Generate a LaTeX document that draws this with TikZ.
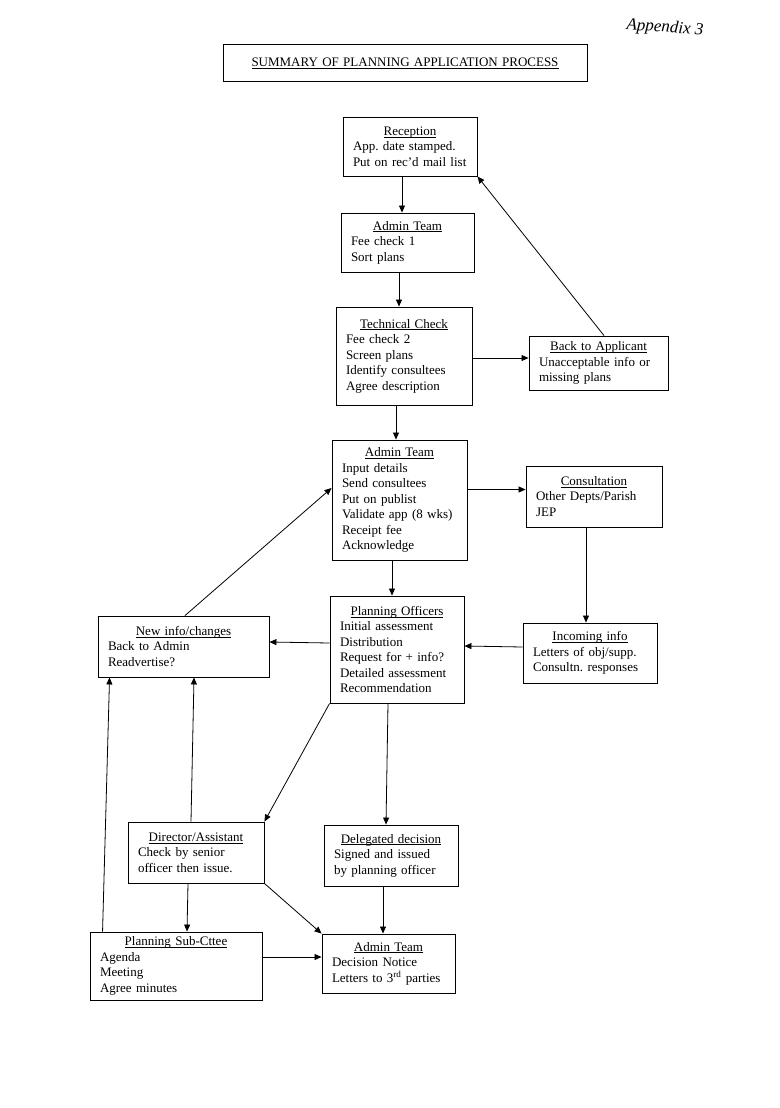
\documentclass[tikz,border=0pt]{standalone}
\usepackage{fontspec}
\setmainfont{Liberation Serif}
\usetikzlibrary{arrows.meta}
\newcommand{\hd}[1]{\makebox[\hsize]{\setbox0\hbox{#1}\rlap{\rule[-1.8pt]{\wd0}{0.5pt}}\box0}}
\tikzset{
    box/.style={draw, line width=0.9pt, inner xsep=10pt, inner ysep=3pt, align=left, font=\fontsize{13}{15.5}\selectfont\frenchspacing},
    arr/.style={-{Triangle[length=7pt,width=6pt]}, line width=0.8pt}
}
\begin{document}
\begin{tikzpicture}[x=1pt, y=-1pt]
                    \useasboundingbox (0,0) rectangle (779,1108);
                    \node[font=\fontsize{17}{17}\selectfont\itshape, rotate=-4] (appx) at (665,28) {Appendix 3};
                    \node[box, text width=344pt, minimum height=37pt, align=center] (title) at (405,63) {\hd{SUMMARY OF PLANNING APPLICATION PROCESS}};

                    \node[box, text width=114pt, minimum height=59pt] (rec) at (410,146.5) {\hd{Reception}\\App. date stamped.\\Put on rec'd mail list};
                    \node[box, text width=113pt, minimum height=59pt] (adm1) at (407.5,242.5) {\hd{Admin Team}\\Fee check 1\\Sort plans};
                    \node[box, text width=116pt, minimum height=98pt] (tech) at (404,356) {\hd{Technical Check}\\Fee check 2\\Screen plans\\Identify consultees\\Agree description};
                    \node[box, text width=119pt, minimum height=54pt] (back) at (598.5,363) {\hd{Back to Applicant}\\Unacceptable info or\\missing plans};
                    \node[box, text width=115pt, minimum height=120pt] (adm2) at (399.5,500) {\hd{Admin Team}\\Input details\\Send consultees\\Put on publist\\Validate app (8 wks)\\Receipt fee\\Acknowledge};
                    \node[box, text width=116pt, minimum height=61pt] (cons) at (594,496.5) {\hd{Consultation}\\Other Depts/Parish\\JEP};
                    \node[box, text width=114pt, minimum height=60pt] (inc) at (590,653) {\hd{Incoming info}\\Letters of obj/supp.\\Consultn. responses};
                    \node[box, text width=114pt, minimum height=107pt] (plan) at (397,649.5) {\hd{Planning Officers}\\Initial assessment\\Distribution\\Request for + info?\\Detailed assessment\\Recommendation};
                    \node[box, text width=151pt, minimum height=61pt] (newi) at (183.5,646.5) {\hd{New info/changes}\\Back to Admin\\Readvertise?};
                    \node[box, text width=116pt, minimum height=61pt] (dir) at (196,852.5) {\hd{Director/Assistant}\\Check by senior\\officer then issue.};
                    \node[box, text width=114pt, minimum height=61pt] (dele) at (391,855.5) {\hd{Delegated decision}\\Signed and issued\\by planning officer};
                    \node[box, text width=152pt, minimum height=68pt] (sub) at (176,966) {\hd{Planning Sub-Cttee}\\Agenda\\Meeting\\Agree minutes};
                    \node[box, text width=113pt, minimum height=59pt] (adm3) at (388.5,963.5) {\hd{Admin Team}\\Decision Notice\\Letters to 3\textsuperscript{rd} parties};

                    \draw[arr] ([xshift=-8pt]rec.south) -- ([xshift=-5.5pt]adm1.north);
                    \draw[arr] ([xshift=-8.5pt]adm1.south) -- ([xshift=-5pt]tech.north);
                    \draw[arr] ([yshift=-2pt]tech.east) -- ([yshift=5pt]back.west);
                    \draw[arr] ([xshift=5.5pt]back.north) -- (rec.south east);
                    \draw[arr] ([xshift=-8pt]tech.south) -- ([xshift=-3.5pt]adm2.north);
                    \draw[arr] ([yshift=10.5pt]adm2.east) -- ([yshift=7pt]cons.west);
                    \draw[arr] ([xshift=-8pt]cons.south) -- ([xshift=-4pt]inc.north);
                    \draw[arr] ([xshift=-7.5pt]adm2.south) -- ([xshift=-5pt]plan.north);
                    \draw[arr] ([yshift=6pt]inc.west) -- ([yshift=3.5pt]plan.east);
                    \draw[arr] ([yshift=6.5pt]plan.west) -- ([yshift=4.5pt]newi.east);
                    \draw[arr] ([xshift=1.5pt]newi.north) -- ([yshift=12pt]adm2.west);
                    \draw[arr] (plan.south west) -- (dir.north east);
                    \draw[arr] ([xshift=-9pt]plan.south) -- ([xshift=-5pt]dele.north);
                    \draw[arr] ([xshift=-8pt]dir.south) -- ([xshift=11pt]sub.north);
                    \draw[arr] ([xshift=-5pt]dir.north) -- ([xshift=10.5pt]newi.south);
                    \draw[arr] ([xshift=13pt]sub.north west) -- ([xshift=12pt]newi.south west);
                    \draw[arr] (dir.south east) -- (adm3.north west);
                    \draw[arr] ([xshift=-8pt]dele.south) -- ([xshift=-5.5pt]adm3.north);
                    \draw[arr] ([yshift=9pt]sub.east) -- ([yshift=6.5pt]adm3.west);
                \end{tikzpicture}
\end{document}
